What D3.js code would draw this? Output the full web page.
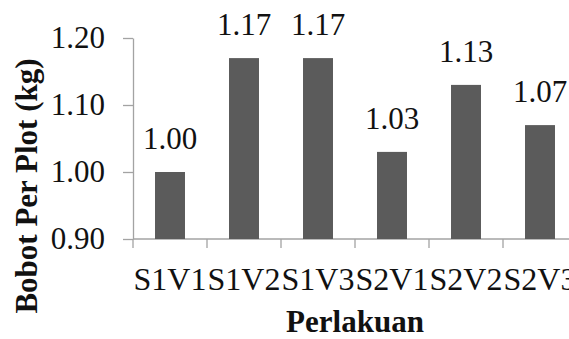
<!DOCTYPE html>
<html>
<head>
<meta charset="utf-8">
<script src="https://cdn.jsdelivr.net/npm/d3@7/dist/d3.min.js"></script>
<style>
  html, body { margin: 0; padding: 0; background: #fff; }
  svg { display: block; }
</style>
</head>
<body>
<svg id="chart" width="569" height="339"></svg>
<script>
// Treatment combinations and mean weight per plot (kg)
const categories = ["S1V1", "S1V2", "S1V3", "S2V1", "S2V2", "S2V3"];
const values = [1.00, 1.17, 1.17, 1.03, 1.13, 1.07];
const yTicks = [0.90, 1.00, 1.10, 1.20];
const yTitle = "Bobot Per Plot (kg)";
const xTitle = "Perlakuan";

const serif = '"Liberation Serif"';
const svg = d3.select("#chart");
const axisColor = "#a3a3a3";
const barColor = "#5b5b5b";
const textColor = "#111";

const plotLeft = 133, plotTop = 38, plotBottom = 239;

const y = d3.scaleLinear().domain([0.9, 1.2]).range([plotBottom, plotTop]);
const x = d3.scaleBand().domain(categories).range([plotLeft, plotLeft + 74 * categories.length])
  .paddingInner(0.595).paddingOuter(0.2975);

// Y axis
const yAxis = svg.append("g")
  .attr("transform", `translate(${plotLeft},0)`)
  .call(d3.axisLeft(y).tickValues(yTicks).tickFormat(d3.format(".2f"))
    .tickSize(10).tickSizeOuter(0).tickPadding(18));
yAxis.select(".domain").attr("stroke", axisColor).attr("stroke-width", 1.3);
yAxis.selectAll(".tick line").attr("stroke", axisColor).attr("stroke-width", 1.3);
yAxis.selectAll(".tick text")
  .style("font-family", serif).style("font-size", "31px").attr("fill", textColor);

// X axis: baseline, boundary ticks, centred labels
const [x0, x1] = x.range();
svg.append("line")
  .attr("x1", x0).attr("x2", x1).attr("y1", plotBottom).attr("y2", plotBottom)
  .attr("stroke", axisColor).attr("stroke-width", 1.3);
svg.append("g").selectAll("line")
  .data(d3.range(categories.length + 1))
  .join("line")
  .attr("x1", i => x0 + i * x.step()).attr("x2", i => x0 + i * x.step())
  .attr("y1", plotBottom).attr("y2", plotBottom + 9)
  .attr("stroke", axisColor).attr("stroke-width", 1.3);
svg.append("g").selectAll("text")
  .data(categories)
  .join("text")
  .attr("x", d => x(d) + x.bandwidth() / 2)
  .attr("y", 290)
  .attr("text-anchor", "middle")
  .style("font-family", serif)
  .style("font-size", "32px")
  .attr("fill", textColor)
  .text(d => d);

// Bars
svg.append("g").selectAll("rect")
  .data(categories)
  .join("rect")
  .attr("x", d => x(d))
  .attr("width", x.bandwidth())
  .attr("y", (d, i) => y(values[i]))
  .attr("height", (d, i) => plotBottom - y(values[i]))
  .attr("fill", barColor);

// Value labels
svg.append("g").selectAll("text")
  .data(categories)
  .join("text")
  .attr("x", d => x(d) + x.bandwidth() / 2)
  .attr("y", (d, i) => y(values[i]) - 23)
  .attr("text-anchor", "middle")
  .style("font-family", serif)
  .style("font-size", "31px")
  .attr("fill", textColor)
  .text((d, i) => d3.format(".2f")(values[i]));

// Axis titles
svg.append("text")
  .attr("transform", "translate(37,186) rotate(-90)")
  .attr("text-anchor", "middle")
  .style("font-family", serif)
  .style("font-size", "31px")
  .style("font-weight", "bold")
  .attr("fill", textColor)
  .text(yTitle);

svg.append("text")
  .attr("x", 355).attr("y", 332)
  .attr("text-anchor", "middle")
  .style("font-family", serif)
  .style("font-size", "31px")
  .style("font-weight", "bold")
  .attr("fill", textColor)
  .text(xTitle);
</script>
</body>
</html>
